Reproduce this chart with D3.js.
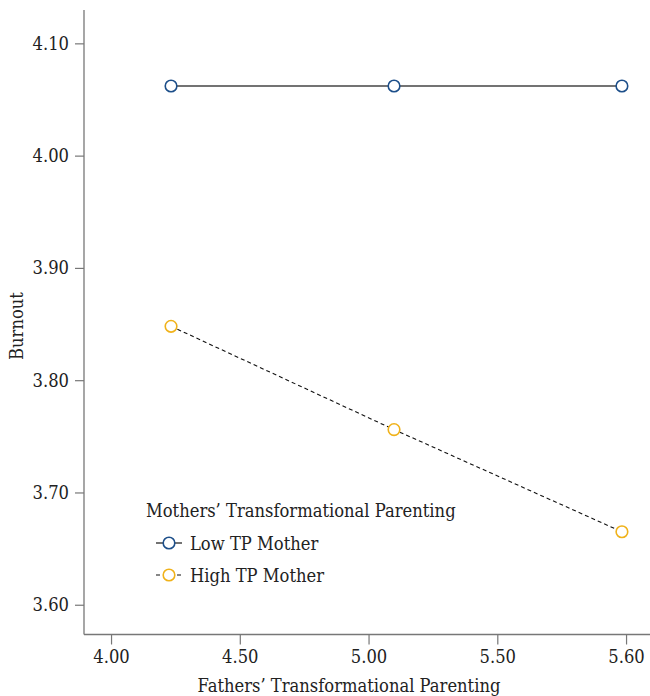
<!DOCTYPE html>
<html lang="en">
<head>
    <meta charset="UTF-8">
    <title>Burnout</title>
    <script src="https://cdn.jsdelivr.net/npm/d3@7"></script>
    <style>
        html, body {
            margin: 0;
            padding: 0;
            background: #fff;
        }
        text {
            font-family: "DejaVu Serif Condensed", "DejaVu Serif", serif;
            font-stretch: condensed;
            fill: #222;
        }
    </style>
</head>
<body>
</body>
<script>
    let width = 650;
    let height = 696;

    // data
    let fatherTP = [4.233, 5.099, 5.984];
    let lowTPMother = [4.062, 4.062, 4.062];
    let highTPMother = [3.848, 3.756, 3.665];
    let seriesNames = ['Low TP Mother', 'High TP Mother'];
    let xTicks = [4.0, 4.5, 5.0, 5.5, 6.0];
    let xTickLabels = ['4.00', '4.50', '5.00', '5.50', '5.60'];
    let yTicks = [3.6, 3.7, 3.8, 3.9, 4.0, 4.1];

    let fontSize = 18.2;
    let fontFamily = '"DejaVu Serif Condensed", "DejaVu Serif", serif';

    let x = d3.scaleLinear().domain([3.895, 6.093]).range([84, 650]);
    let y = d3.scaleLinear().domain([3.5735, 4.1297]).range([634.5, 10]);

    let svg = d3.select('body').append('svg')
        .attr('width', width)
        .attr('height', height);

    // axes
    let gx = svg.append('g')
        .attr('transform', `translate(0, ${y.range()[0]})`)
        .call(d3.axisBottom(x).tickValues(xTicks).tickSize(10).tickPadding(6)
            .tickFormat((d, i) => xTickLabels[i]));
    let gy = svg.append('g')
        .attr('transform', `translate(${x.range()[0]}, 0)`)
        .call(d3.axisLeft(y).tickValues(yTicks).tickSize(9).tickPadding(6)
            .tickFormat(d3.format('.2f')));

    [gx, gy].forEach(g => {
        g.select('.domain').attr('stroke', '#777').attr('stroke-width', 1.3);
        g.selectAll('.tick line').attr('stroke', '#777').attr('stroke-width', 1.2);
        g.selectAll('.tick text').attr('font-size', fontSize).attr('font-family', fontFamily).attr('fill', '#222');
    });
    gx.select('.domain').attr('d', `M${x.range()[0]},0H${x.range()[1]}`);
    gy.select('.domain').attr('d', `M0,${y.range()[0]}V${y.range()[1]}`);

    // axis titles
    svg.append('text')
        .attr('x', 349).attr('y', 692)
        .attr('text-anchor', 'middle')
        .attr('font-size', fontSize)
        .text('Fathers\u2019 Transformational Parenting');

    svg.append('text')
        .attr('transform', `translate(23, 326) rotate(-90)`)
        .attr('text-anchor', 'middle')
        .attr('font-size', fontSize)
        .text('Burnout');

    // series
    let series = [
        {name: seriesNames[0], values: lowTPMother, color: '#1d4f8a', line: '#444', dash: null},
        {name: seriesNames[1], values: highTPMother, color: '#f0b21a', line: '#111', dash: '4,3'}
    ];

    let line = d3.line()
        .x((d, i) => x(fatherTP[i]))
        .y(d => y(d));

    series.forEach(s => {
        svg.append('path')
            .datum(s.values)
            .attr('d', line)
            .attr('fill', 'none')
            .attr('stroke', s.line)
            .attr('stroke-width', s.dash ? 1.1 : 1.5)
            .attr('stroke-dasharray', s.dash);

        svg.append('g').selectAll('circle')
            .data(s.values)
            .enter().append('circle')
            .attr('cx', (d, i) => x(fatherTP[i]))
            .attr('cy', d => y(d))
            .attr('r', 5.8)
            .attr('fill', '#fff')
            .attr('stroke', s.color)
            .attr('stroke-width', 1.6);
    });

    // legend
    let legend = svg.append('g').attr('transform', 'translate(146, 517)');
    legend.append('text')
        .attr('x', 0).attr('y', 0)
        .attr('font-size', fontSize)
        .text('Mothers\u2019 Transformational Parenting');

    series.forEach((s, i) => {
        let g = legend.append('g').attr('transform', `translate(0, ${26 + i * 32})`);
        g.append('line')
            .attr('x1', 10).attr('x2', 36)
            .attr('y1', 0).attr('y2', 0)
            .attr('stroke', s.line)
            .attr('stroke-width', s.dash ? 1.1 : 1.5)
            .attr('stroke-dasharray', s.dash);
        g.append('circle')
            .attr('cx', 23).attr('cy', 0).attr('r', 5.8)
            .attr('fill', '#fff')
            .attr('stroke', s.color)
            .attr('stroke-width', 1.6);
        g.append('text')
            .attr('x', 44).attr('y', 7)
            .attr('font-size', fontSize)
            .text(s.name);
    });
</script>
</html>
